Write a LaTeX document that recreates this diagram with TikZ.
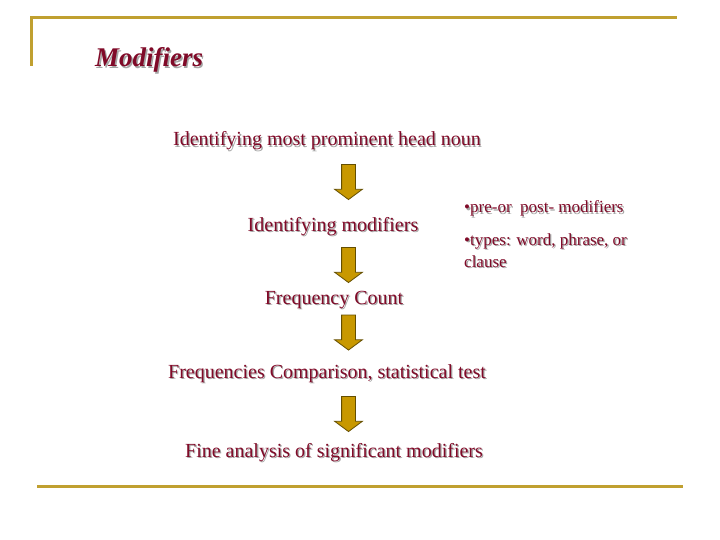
\documentclass[tikz,border=0pt]{standalone}
\usepackage{fontspec}
\setmainfont{Liberation Serif}
\usetikzlibrary{shapes.arrows}
\definecolor{txtred}{RGB}{128,10,40}
\definecolor{shgray}{RGB}{165,165,165}
\definecolor{goldline}{RGB}{192,160,48}
\definecolor{arrfill}{RGB}{200,152,0}
\definecolor{arrdraw}{RGB}{100,78,0}
\newcommand{\sh}[1]{\rlap{\hspace{1.3pt}\raisebox{-1.3pt}{\color{shgray}#1}}#1}
\tikzset{
  lbl/.style={text=txtred, font=\fontsize{20}{24}\selectfont, anchor=base, inner sep=0pt},
  blk/.style={single arrow, fill=arrfill, draw=arrdraw, line width=0.8pt,
    minimum height=35pt, single arrow head extend=7pt, inner sep=6.5pt,
    single arrow tip angle=107, shape border rotate=270},
  frame/.style={goldline, line width=3pt}
}
\begin{document}
\begin{tikzpicture}[x=1pt,y=-1pt]
\useasboundingbox (0,0) rectangle (720,540);
\coordinate (tl) at (31,18);
\coordinate (tr) at (677,18);
\coordinate (lb) at (31,66);
\coordinate (bl) at (37,486);
\coordinate (br) at (683,486);
\draw[frame] (lb) -- (tl) -- (tr);
\draw[frame] (bl) -- (br);
\node[lbl, anchor=base west, font=\fontsize{27}{30}\selectfont\bfseries\itshape] (title) at (95,67) {\sh{Modifiers}};
\node[lbl] (n1) at (327,146) {\sh{Identifying most prominent head noun}};
\node[lbl] (n2) at (333,231) {\sh{Identifying modifiers}};
\node[lbl] (n3) at (334,304) {\sh{Frequency Count}};
\node[lbl] (n4) at (327,378) {\sh{Frequencies Comparison, statistical test}};
\node[lbl] (n5) at (334,457) {\sh{Fine analysis of significant modifiers}};
\node[lbl, anchor=base west, font=\fontsize{17}{20}\selectfont] (b1) at (464,213) {\sh{•pre-or\ \ post- modifiers}};
\node[lbl, anchor=base west, font=\fontsize{17}{20}\selectfont] (b2) at (464,245) {\sh{•types: word, phrase, or}};
\node[lbl, anchor=base west, font=\fontsize{17}{20}\selectfont] (b3) at (464,267) {\sh{clause}};
\node[blk] (a1) at (348.5,179.5) {};
\node[blk] (a2) at (348.5,262.5) {};
\node[blk] (a3) at (348.5,330) {};
\node[blk] (a4) at (348.5,411.5) {};
\end{tikzpicture}
\end{document}
